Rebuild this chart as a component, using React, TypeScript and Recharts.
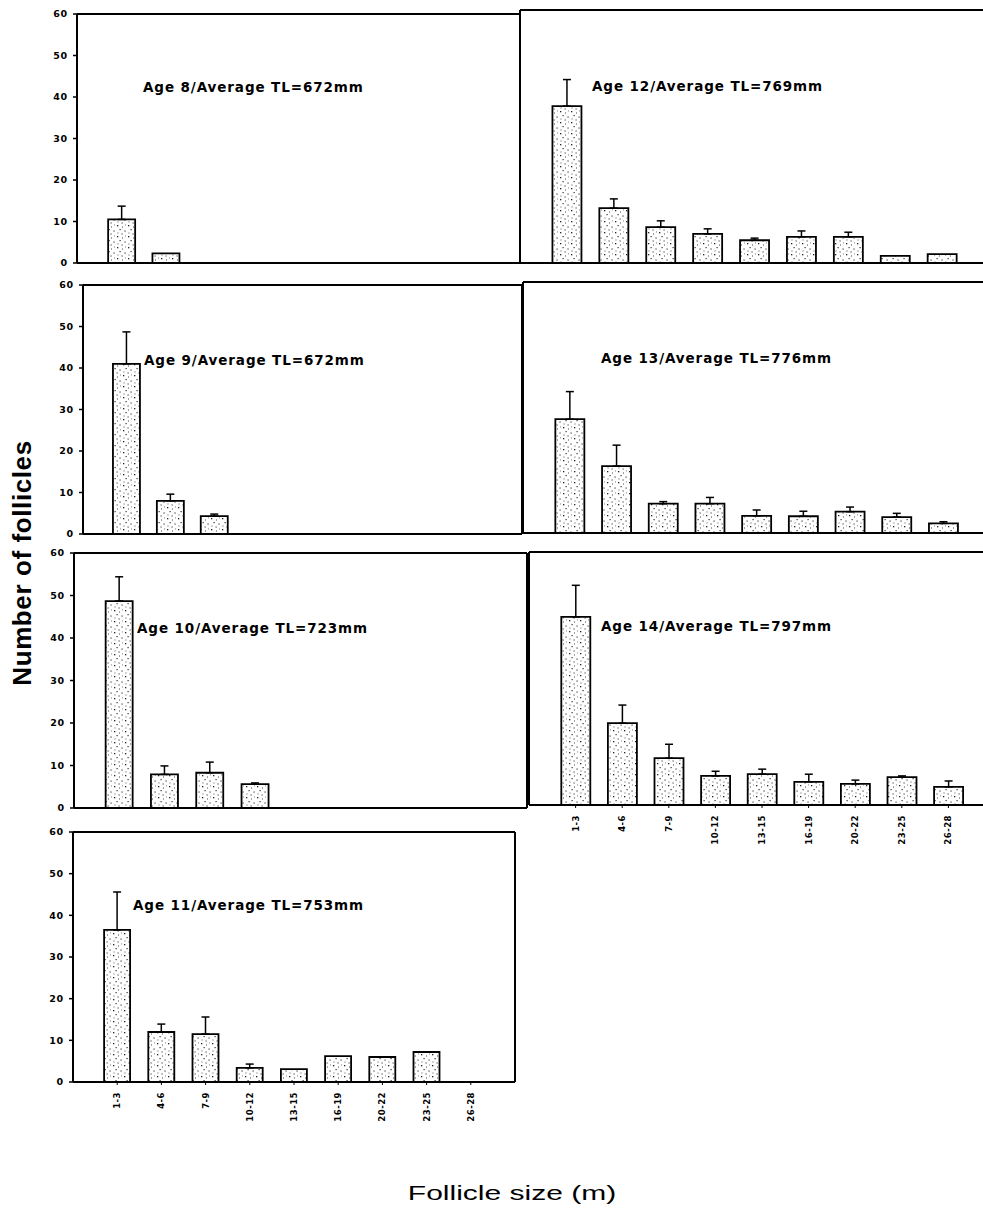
import React from 'react';
import { BarChart, Bar, XAxis, YAxis, ErrorBar } from 'recharts';

// ---------- data ----------
const sizeClasses = ['1-3', '4-6', '7-9', '10-12', '13-15', '16-19', '20-22', '23-25', '26-28'];
const yTicks = [0, 10, 20, 30, 40, 50, 60];

const age8Mean = [10.5, 2.3, null, null, null, null, null, null, null];
const age8Err = [3.2, null, null, null, null, null, null, null, null];

const age9Mean = [41, 8.0, 4.3, null, null, null, null, null, null];
const age9Err = [7.7, 1.6, 0.5, null, null, null, null, null, null];

const age10Mean = [48.7, 7.9, 8.3, 5.6, null, null, null, null, null];
const age10Err = [5.7, 2.0, 2.5, 0.3, null, null, null, null, null];

const age11Mean = [36.5, 12.0, 11.5, 3.4, 3.1, 6.2, 6.0, 7.2, 0];
const age11Err = [9.1, 1.9, 4.1, 0.9, null, null, null, null, null];

const age12Mean = [37.2, 13.0, 8.5, 6.9, 5.4, 6.2, 6.2, 1.7, 2.1];
const age12Err = [6.3, 2.2, 1.5, 1.2, 0.5, 1.4, 1.1, null, null];

const age13Mean = [27.2, 16.0, 7.0, 7.0, 4.1, 4.0, 5.1, 3.8, 2.3];
const age13Err = [6.6, 5.0, 0.5, 1.5, 1.4, 1.2, 1.1, 0.9, 0.4];

const age14Mean = [44.6, 19.4, 11.1, 6.9, 7.3, 5.5, 5.0, 6.6, 4.3];
const age14Err = [7.5, 4.3, 3.3, 1.1, 1.2, 1.8, 0.9, 0.3, 1.4];

const titles = [
  'Age 8/Average TL=672mm',
  'Age 9/Average TL=672mm',
  'Age 10/Average TL=723mm',
  'Age 11/Average TL=753mm',
  'Age 12/Average TL=769mm',
  'Age 13/Average TL=776mm',
  'Age 14/Average TL=797mm',
];

function buildData(means: (number | null)[], errs: (number | null)[]) {
  return sizeClasses.map((s, i) => ({
    size: s,
    mean: means[i],
    err: errs[i] == null ? null : [0, errs[i]],
  }));
}

// ---------- layout ----------
type PanelCfg = {
  id: string;
  L: number; T: number; R: number; B: number;
  means: (number | null)[]; errs: (number | null)[];
  title: string; tx: number; ty: number;
  yLabels: boolean; xLabels: boolean; barSize: number;
};

const panels: PanelCfg[] = [
  { id: 'p8', L: 77, T: 14, R: 520, B: 263, means: age8Mean, errs: age8Err, title: titles[0], tx: 143, ty: 87, yLabels: true, xLabels: false, barSize: 27 },
  { id: 'p9', L: 83, T: 285, R: 522, B: 534, means: age9Mean, errs: age9Err, title: titles[1], tx: 144, ty: 360, yLabels: true, xLabels: false, barSize: 27 },
  { id: 'p10', L: 74, T: 553, R: 527, B: 808, means: age10Mean, errs: age10Err, title: titles[2], tx: 137, ty: 628, yLabels: true, xLabels: false, barSize: 27 },
  { id: 'p11', L: 73, T: 832, R: 515, B: 1082, means: age11Mean, errs: age11Err, title: titles[3], tx: 133, ty: 905, yLabels: true, xLabels: true, barSize: 26 },
  { id: 'p12', L: 520, T: 10, R: 989, B: 263, means: age12Mean, errs: age12Err, title: titles[4], tx: 592, ty: 86, yLabels: false, xLabels: false, barSize: 29 },
  { id: 'p13', L: 523, T: 282, R: 990, B: 533, means: age13Mean, errs: age13Err, title: titles[5], tx: 601, ty: 358, yLabels: false, xLabels: false, barSize: 29 },
  { id: 'p14', L: 529, T: 552, R: 995, B: 805, means: age14Mean, errs: age14Err, title: titles[6], tx: 601, ty: 626, yLabels: false, xLabels: true, barSize: 29 },
];

const YW = 60; // left axis width
const MT = 10; // top space
const MR = 10; // right space

const RotatedTick = (props: any) => {
  const { x, y, payload } = props;
  return (
    <text
      transform={`translate(${x},${y}) rotate(-90)`}
      textAnchor="end"
      dominantBaseline="central"
      fontFamily="DejaVu Sans"
      fontWeight="bold"
      fontSize={8.5}
      letterSpacing={0.5}
      fill="#000"
    >
      {payload.value}
    </text>
  );
};

const axisLine = { stroke: '#000', strokeWidth: 2 };

function Panel({ cfg }: { cfg: PanelCfg }) {
  const data = buildData(cfg.means, cfg.errs);
  const plotW = cfg.R - cfg.L;
  const XH = cfg.xLabels ? 50 : 4;
  const width = YW + plotW + MR;
  const height = MT + (cfg.B - cfg.T) + XH;
  const left = cfg.L - YW;
  const top = cfg.T - MT;
  const pad = plotW / 20;
  const pid = `dots-${cfg.id}`;
  return (
    <div style={{ position: 'absolute', left, top, width, height }}>
      <BarChart
        width={width}
        height={height}
        data={data}
        margin={{ top: MT - 1, right: MR - 1, left: 0, bottom: 0 }}
      >
        <defs>
          <pattern id={pid} width="11" height="11" patternUnits="userSpaceOnUse">
            <rect width="11" height="11" fill="#ffffff" />
            <rect x="1" y="1" width="1.3" height="1.3" fill="#222" />
            <rect x="6" y="2.5" width="1" height="1" fill="#444" />
            <rect x="3.5" y="5" width="1.2" height="1.2" fill="#333" />
            <rect x="8.5" y="6.5" width="1.1" height="1.1" fill="#222" />
            <rect x="1.5" y="8.5" width="1" height="1" fill="#555" />
            <rect x="5.5" y="9.5" width="1.2" height="1" fill="#333" />
            <rect x="9" y="0.5" width="0.9" height="0.9" fill="#666" />
          </pattern>
        </defs>
        <XAxis
          dataKey="size"
          padding={{ left: pad, right: pad }}
          axisLine={axisLine}
          height={XH}
          interval={0}
          tickLine={cfg.xLabels ? { stroke: '#000', strokeWidth: 1 } : false}
          tickSize={3}
          tickMargin={7}
          tick={cfg.xLabels ? <RotatedTick /> : false}
        />
        <XAxis
          xAxisId="top"
          orientation="top"
          dataKey="size"
          height={1}
          axisLine={axisLine}
          tick={false}
          tickLine={false}
        />
        <YAxis
          width={YW}
          domain={[0, 60]}
          ticks={yTicks}
          interval={0}
          axisLine={axisLine}
          tickLine={cfg.yLabels ? { stroke: '#000', strokeWidth: 1.5 } : false}
          tickSize={4}
          tickMargin={5}
          tick={
            cfg.yLabels
              ? { fontFamily: 'DejaVu Sans', fontWeight: 'bold', fontSize: 9.5, fill: '#000', letterSpacing: 0.8 }
              : false
          }
        />
        <YAxis
          yAxisId="right"
          orientation="right"
          width={1}
          domain={[0, 60]}
          axisLine={axisLine}
          tick={false}
          tickLine={false}
        />
        <Bar
          dataKey="mean"
          barSize={cfg.barSize}
          fill={`url(#${pid})`}
          stroke="#000"
          strokeWidth={1.8}
          isAnimationActive={false}
        >
          <ErrorBar dataKey="err" direction="y" width={4} stroke="#000" strokeWidth={1.5} />
        </Bar>
        <text
          x={cfg.tx - left}
          y={cfg.ty - top}
          dominantBaseline="central"
          fontFamily="DejaVu Sans"
          fontWeight="bold"
          fontSize={13.5}
          letterSpacing={0.9}
          fill="#000"
        >
          {cfg.title}
        </text>
      </BarChart>
    </div>
  );
}

export default function App() {
  return (
    <div
      style={{
        position: 'absolute',
        left: 0,
        top: 0,
        width: 983,
        height: 1214,
        overflow: 'hidden',
        background: '#fff',
      }}
    >
      {panels.map((p) => (
        <Panel key={p.id} cfg={p} />
      ))}
      <div
        style={{
          position: 'absolute',
          left: 22,
          top: 563,
          transform: 'translate(-50%, -50%) rotate(-90deg)',
          whiteSpace: 'nowrap',
          fontFamily: 'Liberation Sans, Arial, sans-serif',
          fontWeight: 'bold',
          fontSize: 26,
          letterSpacing: 0.6,
          color: '#000',
          lineHeight: 1,
        }}
      >
        Number of follicles
      </div>
      <div
        style={{
          position: 'absolute',
          left: 512,
          top: 1193,
          transform: 'translate(-50%, -50%) scaleX(1.5)',
          whiteSpace: 'nowrap',
          fontFamily: 'Liberation Sans, Arial, sans-serif',
          fontSize: 20,
          color: '#000',
          lineHeight: 1,
        }}
      >
        Follicle size (m)
      </div>
    </div>
  );
}
